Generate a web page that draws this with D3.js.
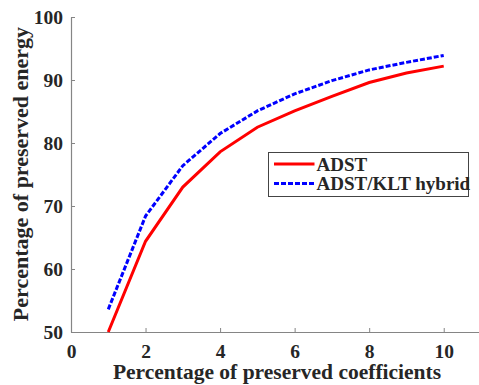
<!DOCTYPE html>
<html>
<head>
<meta charset="utf-8">
<script src="https://cdn.jsdelivr.net/npm/d3@7"></script>
<style>
  body { margin: 0; background: #fff; }
</style>
</head>
<body>
<svg id="chart"></svg>
<script>
// values
const coeffs = [1, 2, 3, 4, 5, 6, 7, 8, 9, 10];
const adst = [50, 64.4, 73, 78.6, 82.5, 85.1, 87.4, 89.6, 91.1, 92.2];
const hybrid = [53.6, 68.4, 76.4, 81.5, 85.1, 87.8, 89.9, 91.6, 92.8, 93.9];
const xTicks = [0, 2, 4, 6, 8, 10];
const yTicks = [50, 60, 70, 80, 90, 100];

const FONT = "'Liberation Serif', 'Times New Roman', serif";
const W = 479, H = 385;
const margin = { top: 17, right: 0, bottom: 53, left: 71 };

const svg = d3.select("#chart").attr("width", W).attr("height", H);
const g = svg.append("g").attr("transform", `translate(${margin.left},${margin.top})`);
const width = W - margin.left - margin.right;
const height = H - margin.top - margin.bottom;

const x = d3.scaleLinear().domain([0, 11]).range([0, 410]);
const y = d3.scaleLinear().domain([50, 100]).range([height, 0]);

const xAxis = g.append("g").attr("transform", `translate(0,${height})`)
    .call(d3.axisBottom(x).tickValues(xTicks).tickSizeInner(-4).tickSizeOuter(0).tickPadding(12));
const yAxis = g.append("g")
    .call(d3.axisLeft(y).tickValues(yTicks).tickSizeInner(-4).tickSizeOuter(0).tickPadding(8));

[xAxis, yAxis].forEach(a => {
    a.attr("font-family", FONT).attr("font-weight", 700).attr("font-size", 19.5);
    a.select(".domain").attr("stroke", "#858585").attr("stroke-width", 1.2);
    a.selectAll(".tick line").attr("stroke", "#858585");
    a.selectAll("text").attr("fill", "#262626");
});
xAxis.select(".domain").attr("d", `M0,0.5H${width}`);
xAxis.selectAll("text").attr("dy", "0.71em");

const line = vals => d3.line().x((d, i) => x(coeffs[i])).y(d => y(d))(vals);

g.append("path").attr("d", line(adst))
    .attr("fill", "none").attr("stroke", "#ff0000").attr("stroke-width", 3);
g.append("path").attr("d", line(hybrid))
    .attr("fill", "none").attr("stroke", "#0000ff").attr("stroke-width", 3)
    .attr("stroke-dasharray", "5,2");

const txt = (sel, size) => sel.attr("font-family", FONT).attr("font-weight", 700)
    .attr("font-size", size).attr("fill", "#262626");

// axis titles
txt(svg.append("text"), 21.5).attr("x", 277).attr("y", 379).attr("text-anchor", "middle")
    .text("Percentage of preserved coefficients");
txt(svg.append("text"), 22).attr("transform", "translate(28,174) rotate(-90)").attr("text-anchor", "middle")
    .text("Percentage of preserved energy");

// legend
const leg = svg.append("g").attr("transform", "translate(268.5,152.5)");
leg.append("rect").attr("width", 200).attr("height", 44)
    .attr("fill", "#fff").attr("stroke", "#444").attr("stroke-width", 1);
const items = [
    { name: "ADST", color: "#ff0000", dash: null },
    { name: "ADST/KLT hybrid", color: "#0000ff", dash: "5,2" }
];
items.forEach((it, i) => {
    const yy = 11.5 + i * 19.5;
    leg.append("line").attr("x1", 5.5).attr("x2", 46).attr("y1", yy).attr("y2", yy)
        .attr("stroke", it.color).attr("stroke-width", 3).attr("stroke-dasharray", it.dash);
    txt(leg.append("text"), 19).attr("x", 48).attr("y", yy + 6.5).text(it.name);
});
</script>
</body>
</html>
